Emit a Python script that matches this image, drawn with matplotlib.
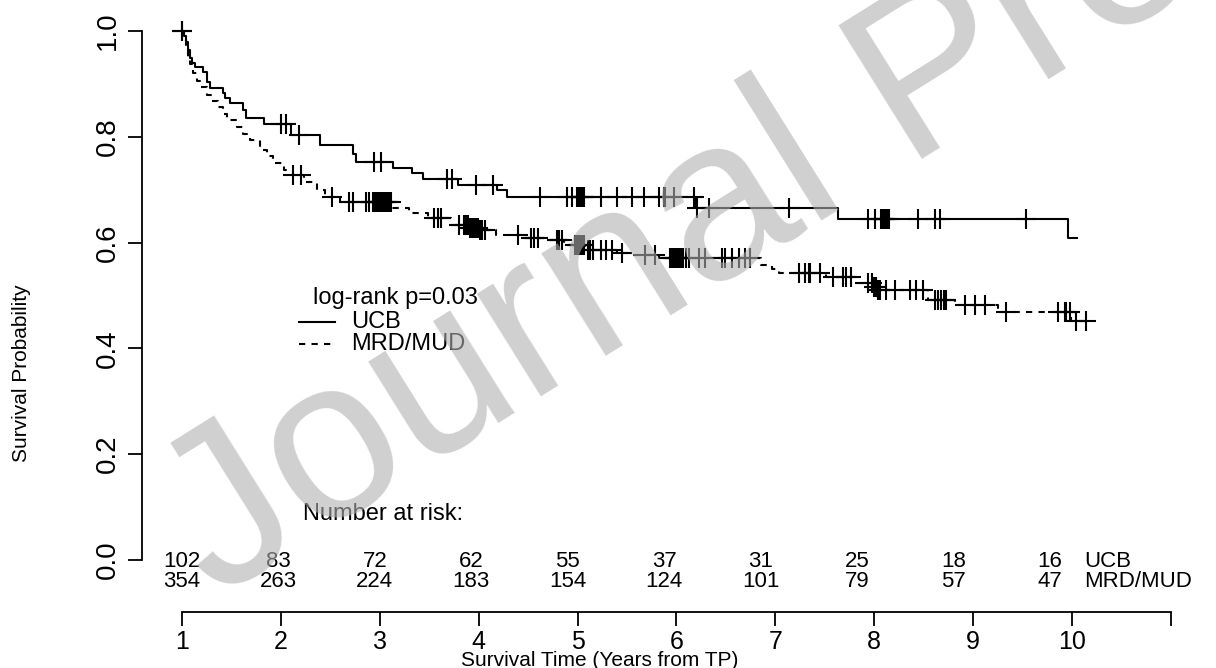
import numpy as np
import matplotlib.pyplot as plt

plt.rcParams['font.family'] = ['Liberation Sans', 'DejaVu Sans']

# Kaplan-Meier steps (time in years from TP, survival)
ucb_time = [1.00, 1.02, 1.04, 1.06, 1.08, 1.10, 1.13, 1.21, 1.25, 1.28, 1.41, 1.44,
            1.49, 1.62, 1.65, 1.83, 2.10, 2.40, 2.73, 2.76, 3.13, 3.33, 3.44, 3.79,
            4.19, 4.29, 6.19, 7.63, 9.96]
ucb_surv = [1.000, 0.990, 0.980, 0.964, 0.949, 0.940, 0.932, 0.922, 0.903, 0.892, 0.882, 0.874,
            0.864, 0.850, 0.836, 0.824, 0.803, 0.785, 0.768, 0.752, 0.741, 0.732, 0.720, 0.709,
            0.699, 0.686, 0.666, 0.644, 0.609]
ucb_end = 10.05
ucb_cens = [1.00, 2.00, 2.05, 2.18, 2.94, 3.01, 3.68, 3.73, 3.97, 4.14, 4.62, 4.89, 4.94,
            4.99, 5.01, 5.03, 5.05, 5.07, 5.24, 5.40, 5.55, 5.67, 5.82, 5.87, 5.88, 5.97,
            6.18, 6.21, 6.33, 7.14, 7.94, 8.01, 8.07, 8.09, 8.11, 8.13, 8.15, 8.44, 8.61,
            8.66, 9.53]

mrd_time = [1.00, 1.02, 1.04, 1.06, 1.08, 1.11, 1.15, 1.18, 1.25, 1.30, 1.36, 1.41,
            1.46, 1.56, 1.62, 1.69, 1.79, 1.86, 1.92, 2.03, 2.12, 2.23, 2.37, 2.45,
            2.60, 3.12, 3.30, 3.49, 3.72, 3.90, 4.00, 4.18, 4.43, 4.70, 4.86, 5.08,
            5.40, 5.55, 5.82, 6.85, 6.97, 7.04, 7.51, 7.80, 7.99, 8.04, 8.54, 8.82,
            9.25, 9.99]
mrd_surv = [1.000, 0.985, 0.967, 0.951, 0.937, 0.921, 0.906, 0.894, 0.879, 0.868, 0.856, 0.844,
            0.832, 0.819, 0.806, 0.794, 0.775, 0.763, 0.750, 0.737, 0.728, 0.715, 0.699, 0.686,
            0.677, 0.666, 0.656, 0.646, 0.633, 0.628, 0.623, 0.614, 0.609, 0.605, 0.596, 0.586,
            0.581, 0.576, 0.571, 0.558, 0.550, 0.543, 0.535, 0.523, 0.517, 0.510, 0.492, 0.482,
            0.469, 0.452]
mrd_end = 10.14
mrd_cens = [1.00, 2.12, 2.20, 2.52, 2.69, 2.73, 2.86, 2.89, 2.93, 2.95, 2.97, 2.99, 3.01,
            3.03, 3.05, 3.07, 3.09, 3.11, 3.55, 3.59, 3.62, 3.80, 3.85, 3.87, 3.89, 3.91,
            3.93, 3.95, 3.97, 3.99, 4.01, 4.03, 4.06, 4.40, 4.53, 4.56, 4.60, 4.79, 4.81,
            4.84, 4.97, 4.99, 5.01, 5.03, 5.05, 5.07, 5.11, 5.13, 5.16, 5.24, 5.29, 5.35,
            5.45, 5.68, 5.78, 5.93, 5.95, 5.97, 5.99, 6.01, 6.03, 6.05, 6.07, 6.10, 6.13,
            6.23, 6.29, 6.46, 6.49, 6.56, 6.63, 6.69, 6.74, 7.24, 7.30, 7.34, 7.35, 7.45,
            7.58, 7.68, 7.71, 7.76, 7.94, 7.98, 8.00, 8.02, 8.04, 8.06, 8.12, 8.21, 8.36,
            8.42, 8.49, 8.61, 8.64, 8.67, 8.70, 8.73, 8.92, 9.02, 9.12, 9.33, 9.86, 9.93,
            9.94, 9.98, 10.04, 10.14]

# number at risk
risk_times = [1, 2, 3, 4, 5, 6, 7, 8, 9, 10]
risk_ucb = [102, 83, 72, 62, 55, 37, 31, 25, 18, 16]
risk_mrd = [354, 263, 224, 183, 154, 124, 101, 79, 57, 47]

x_ticks = [1, 2, 3, 4, 5, 6, 7, 8, 9, 10, 11]
x_ticklabels = ['1', '2', '3', '4', '5', '6', '7', '8', '9', '10', '']
y_ticks = [0.0, 0.2, 0.4, 0.6, 0.8, 1.0]


def surv_at(times, surv, t):
    i = np.searchsorted(times, t, side='right') - 1
    return np.asarray(surv)[np.clip(i, 0, len(surv) - 1)]


fig = plt.figure(figsize=(12.16, 6.68), dpi=100)
ax = fig.add_axes([142 / 1216, 56 / 668, 1 - 142 / 1216, 1 - 56 / 668])
ax.set_xlim(0.596, 11.455)
ax.set_ylim(-0.0983, 1.0586)

for t, s, end, ls, cens in [(ucb_time, ucb_surv, ucb_end, '-', ucb_cens),
                            (mrd_time, mrd_surv, mrd_end, (0, (3, 3)), mrd_cens)]:
    ax.step(t + [end], s + [s[-1]], where='post', color='black', lw=1.5, linestyle=ls)
    ax.plot(cens, surv_at(t, s, cens), linestyle='none', marker='+',
            ms=14, mew=1.5, color='black')

# annotations
ax.text(2.33, 0.495, 'log-rank p=0.03', fontsize=17, va='center', ha='left')
ax.plot([2.18, 2.55], [0.450, 0.450], color='black', lw=1.5)
ax.plot([2.18, 2.55], [0.408, 0.408], color='black', lw=1.5, linestyle=(0, (3, 3)))
ax.text(2.71, 0.450, 'UCB', fontsize=17, va='center', ha='left')
ax.text(2.71, 0.408, 'MRD/MUD', fontsize=17, va='center', ha='left')
ax.text(2.22, 0.087, 'Number at risk:', fontsize=17, va='center', ha='left')

# the counts sit slightly left of the ticks in the reference
risk_pos = [1 + (t - 1) * 0.975 for t in risk_times]
for p, a, b in zip(risk_pos, risk_ucb, risk_mrd):
    ax.text(p, -0.002, str(a), fontsize=16, ha='center', va='center')
    ax.text(p, -0.040, str(b), fontsize=16, ha='center', va='center')
ax.text(10.12, -0.002, 'UCB', fontsize=16, ha='left', va='center')
ax.text(10.12, -0.040, 'MRD/MUD', fontsize=16, ha='left', va='center')

for side in ['top', 'right']:
    ax.spines[side].set_visible(False)
ax.spines['left'].set_bounds(0, 1)
ax.spines['bottom'].set_bounds(1, 11)
ax.spines['left'].set_linewidth(1.3)
ax.spines['bottom'].set_linewidth(1.3)

ax.set_yticks(y_ticks)
ax.set_yticklabels([f'{v:.1f}' for v in y_ticks], rotation=90, va='center', fontsize=20)
ax.set_xticks(x_ticks)
ax.set_xticklabels(x_ticklabels, fontsize=18)
ax.tick_params(axis='y', length=10, width=1.3, pad=5)
ax.tick_params(axis='x', length=10, width=1.3, pad=3)

fig.text(600 / 1216, 8 / 668, 'Survival Time (Years from TP)', fontsize=15, ha='center', va='center')
fig.text(22 / 1216, 295 / 668, 'Survival Probability', fontsize=15, rotation=90, ha='center', va='center')

# watermark
fig.text(215 / 1216, 68 / 668, 'Journal Pre-proof', fontsize=165, rotation=32,
         rotation_mode='anchor', ha='left', va='baseline', color='#b0b0b0', alpha=0.6, zorder=10)

fig.savefig('out.png', dpi=100)
